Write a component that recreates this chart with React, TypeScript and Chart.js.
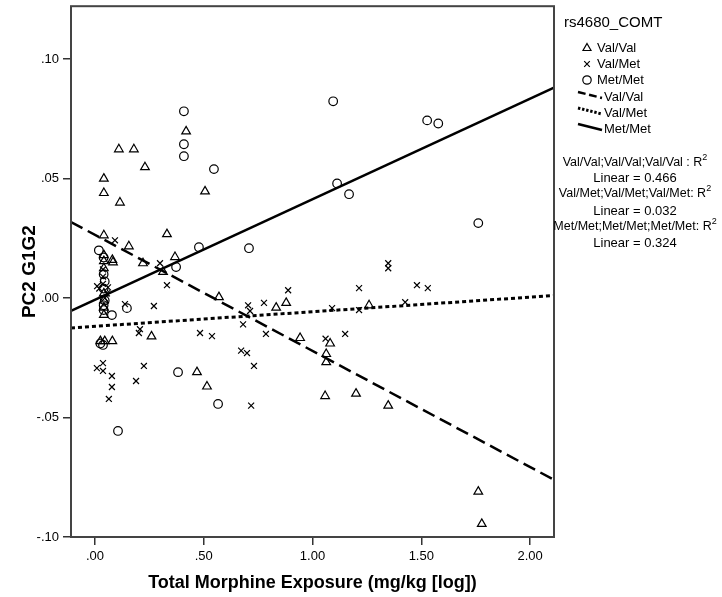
import React, { useEffect, useRef } from "react";
import { Chart, registerables } from "chart.js";

Chart.register(...registerables);

// ---------- data ----------
const xTicks = [0, 0.5, 1, 1.5, 2];
const yTicks = [-0.1, -0.05, 0, 0.05, 0.1];
const xRange = [-0.11, 2.11];
const yRange = [-0.1, 0.1222];

const groupLabels = ["Val/Val", "Val/Met", "Met/Met"];
const rSquared = ["0.466", "0.032", "0.324"];
// linear fit per group: intercept, slope
const fitIntercepts = [0.0265, -0.0118, -0.0007];
const fitSlopes = [-0.0486, 0.0061, 0.0421];

const valValX = [0.419, 0.041, 0.041, 0.110, 0.179, 0.230, 0.115, 0.506, 0.041, 0.331, 0.156, 0.368, 0.221, 0.313, 0.570, 0.041, 0.080, 0.083, 0.041, 0.041, 0.041, 0.041, 0.041, 0.041, 0.025, 0.045, 0.080, 0.260, 0.469, 0.515, 0.833, 0.879, 1.260, 0.943, 1.081, 1.063, 1.063, 1.058, 1.200, 1.348, 1.762, 1.778];
const valValY = [0.0698, 0.050, 0.044, 0.0623, 0.0623, 0.0548, 0.040, 0.0447, 0.0263, 0.0268, 0.0217, 0.0172, 0.0146, 0.011, 0.0004, 0.018, 0.016, 0.015, 0.0155, 0.0125, 0.002, -0.001, -0.004, -0.007, -0.018, -0.018, -0.018, -0.016, -0.031, -0.037, -0.004, -0.002, -0.003, -0.0167, -0.019, -0.0234, -0.0268, -0.041, -0.040, -0.045, -0.081, -0.0945];

const valMetX = [0.092, 0.299, 0.331, 0.138, 0.271, 0.704, 0.713, 0.681, 0.207, 0.202, 0.483, 0.538, 0.672, 0.699, 0.731, 0.037, 0.009, 0.037, 0.078, 0.225, 0.189, 0.078, 0.064, 0.718, 0.888, 0.777, 0.786, 1.090, 1.214, 1.214, 1.150, 1.348, 1.348, 1.480, 1.530, 1.426, 0.037, 0.037, 0.037, 0.020, 0.055, 0.045, 0.010, 0.060, 1.060];
const valMetY = [0.0242, 0.0146, 0.0054, -0.0025, -0.0033, -0.003, -0.0054, -0.011, -0.013, -0.0146, -0.0146, -0.0159, -0.022, -0.023, -0.0284, -0.0272, -0.0293, -0.0305, -0.0326, -0.0284, -0.0347, -0.0372, -0.0422, -0.045, 0.0033, -0.002, -0.015, -0.0042, 0.0042, -0.005, -0.015, 0.0146, 0.0125, 0.0054, 0.0042, -0.0017, 0.012, 0.009, 0.006, 0.004, 0.002, 0.0, 0.005, 0.0045, -0.017];

const metMetX = [0.409, 0.409, 0.409, 0.547, 1.095, 1.527, 1.578, 1.113, 1.168, 1.762, 0.708, 0.478, 0.373, 0.018, 0.147, 0.078, 0.037, 0.382, 0.566, 0.106, 0.040, 0.040, 0.045, 0.040, 0.040, 0.040, 0.025, 0.045];
const metMetY = [0.0782, 0.0644, 0.0594, 0.054, 0.0824, 0.0744, 0.0731, 0.048, 0.0435, 0.0314, 0.0209, 0.0213, 0.013, 0.020, -0.0042, -0.0071, -0.0196, -0.031, -0.0443, -0.0556, 0.017, 0.010, 0.007, 0.004, -0.003, -0.005, -0.019, -0.001];

// ---------- helpers ----------
const FONT = '"Liberation Sans", Arial, sans-serif';
const fmt = (v: number) => {
  const s = Math.abs(v).toFixed(2);
  const t = s.startsWith("0") ? s.slice(1) : s;
  return (v < 0 ? "-" : "") + t;
};
const pts = (xs: number[], ys: number[]) => xs.map((x, i) => ({ x, y: ys[i] }));
const fitLine = (i: number) =>
  xRange.map((x) => ({ x, y: fitIntercepts[i] + fitSlopes[i] * x }));

const lineDashes = [[13, 6], [4, 3], []];
const lineWidths = [2.5, 3, 2.5];

const framePlugin = {
  id: "frame",
  afterDraw(chart: any) {
    const { ctx, chartArea: a } = chart;
    ctx.save();
    ctx.strokeStyle = "#444";
    ctx.lineWidth = 2;
    ctx.strokeRect(a.left, a.top, a.right - a.left, a.bottom - a.top);
    ctx.restore();
  },
};

const legendPlugin = {
  id: "customLegend",
  afterDraw(chart: any) {
    const ctx = chart.ctx as CanvasRenderingContext2D;
    ctx.save();
    ctx.fillStyle = "#000";
    ctx.strokeStyle = "#000";
    ctx.textBaseline = "middle";
    ctx.textAlign = "left";
    ctx.font = `15px ${FONT}`;
    ctx.fillText("rs4680_COMT", 564, 23);

    // marker rows
    const mx = 587;
    const rows = [48, 64, 80];
    ctx.lineWidth = 1.2;
    // triangle
    ctx.beginPath();
    ctx.moveTo(mx, rows[0] - 4.5);
    ctx.lineTo(mx + 4, rows[0] + 2.5);
    ctx.lineTo(mx - 4, rows[0] + 2.5);
    ctx.closePath();
    ctx.stroke();
    // cross
    ctx.beginPath();
    ctx.moveTo(mx - 2.8, rows[1] - 2.8);
    ctx.lineTo(mx + 2.8, rows[1] + 2.8);
    ctx.moveTo(mx + 2.8, rows[1] - 2.8);
    ctx.lineTo(mx - 2.8, rows[1] + 2.8);
    ctx.stroke();
    // circle
    ctx.beginPath();
    ctx.arc(mx, rows[2], 4.2, 0, Math.PI * 2);
    ctx.stroke();

    ctx.font = `13px ${FONT}`;
    groupLabels.forEach((l, i) => ctx.fillText(l, 597, rows[i]));

    // line rows
    const lrows = [97, 113, 129];
    groupLabels.forEach((l, i) => {
      ctx.save();
      ctx.lineWidth = lineWidths[i];
      ctx.setLineDash(lineDashes[i].map((d) => d * 0.6));
      ctx.beginPath();
      ctx.moveTo(578, lrows[i] - 5);
      ctx.lineTo(602, lrows[i] + 1);
      ctx.stroke();
      ctx.restore();
      ctx.fillText(l, 604, lrows[i]);
    });

    // R^2 block
    const cx = 635;
    const rY = [163, 178, 194, 211, 227, 243];
    groupLabels.forEach((l, i) => {
      const head = `${l};${l};${l}${i === 0 ? " : R" : ": R"}`;
      ctx.font = `12.5px ${FONT}`;
      const w1 = ctx.measureText(head).width;
      ctx.font = `9px ${FONT}`;
      const w2 = ctx.measureText("2").width;
      const x0 = cx - (w1 + w2) / 2;
      ctx.font = `12.5px ${FONT}`;
      ctx.textAlign = "left";
      ctx.fillText(head, x0, rY[i * 2]);
      ctx.font = `9px ${FONT}`;
      ctx.fillText("2", x0 + w1, rY[i * 2] - 5);
      ctx.font = `13px ${FONT}`;
      ctx.textAlign = "center";
      ctx.fillText(`Linear = ${rSquared[i]}`, cx, rY[i * 2 + 1]);
      ctx.textAlign = "left";
    });
    ctx.restore();
  },
};

export default function App() {
  const ref = useRef<HTMLCanvasElement | null>(null);

  useEffect(() => {
    document.body.style.margin = "0";
    if (!ref.current) return;
    const markerBase = {
      type: "scatter" as const,
      borderColor: "#000",
      backgroundColor: "rgba(0,0,0,0)",
      pointBorderWidth: 1.2,
      showLine: false,
    };
    const chart = new Chart(ref.current, {
      type: "scatter",
      data: {
        datasets: [
          { ...markerBase, label: "Val/Val", data: pts(valValX, valValY), pointStyle: "triangle", pointRadius: 5 },
          { ...markerBase, label: "Val/Met", data: pts(valMetX, valMetY), pointStyle: "crossRot", pointRadius: 4.2 },
          { ...markerBase, label: "Met/Met", data: pts(metMetX, metMetY), pointStyle: "circle", pointRadius: 4.3 },
          ...groupLabels.map((l, i) => ({
            type: "line" as const,
            label: l + " fit",
            data: fitLine(i),
            borderColor: "#000",
            borderWidth: lineWidths[i],
            borderDash: lineDashes[i],
            pointRadius: 0,
            fill: false,
            tension: 0,
          })),
        ],
      } as any,
      options: {
        responsive: false,
        animation: false,
        devicePixelRatio: 1,
        layout: { padding: { top: 5, right: 168, left: 0, bottom: 0 } },
        plugins: { legend: { display: false }, tooltip: { enabled: false } },
        scales: {
          x: {
            type: "linear",
            min: xRange[0],
            max: xRange[1],
            afterBuildTicks: (s: any) => {
              s.ticks = xTicks.map((v) => ({ value: v }));
            },
            afterFit: (s: any) => {
              s.height = 60;
              s.paddingLeft = 0;
              s.paddingRight = 0;
            },
            border: { display: false },
            grid: { drawOnChartArea: false, drawTicks: true, tickLength: 8, color: "#333", lineWidth: 1.5 },
            ticks: {
              callback: (v: any) => fmt(Number(v)),
              color: "#000",
              font: { family: FONT, size: 13 },
              padding: 4,
              maxRotation: 0,
              autoSkip: false,
            },
            title: {
              display: true,
              text: "Total Morphine Exposure (mg/kg [log])",
              color: "#000",
              font: { family: FONT, size: 18, weight: "bold" },
              padding: { top: 3, bottom: 3 },
            },
          },
          y: {
            type: "linear",
            min: yRange[0],
            max: yRange[1],
            afterBuildTicks: (s: any) => {
              s.ticks = yTicks.map((v) => ({ value: v }));
            },
            afterFit: (s: any) => {
              s.width = 71;
              s.paddingTop = 0;
              s.paddingBottom = 0;
            },
            border: { display: false },
            grid: { drawOnChartArea: false, drawTicks: true, tickLength: 8, color: "#333", lineWidth: 1.5 },
            ticks: {
              callback: (v: any) => fmt(Number(v)),
              color: "#000",
              font: { family: FONT, size: 13 },
              padding: 4,
              autoSkip: false,
            },
            title: {
              display: true,
              text: "PC2 G1G2",
              color: "#000",
              font: { family: FONT, size: 19, weight: "bold" },
              padding: { top: 18, bottom: 18 },
            },
          },
        },
      } as any,
      plugins: [framePlugin, legendPlugin],
    });
    return () => chart.destroy();
  }, []);

  return (
    <div style={{ position: "absolute", left: 0, top: 0, width: 722, height: 597, background: "#fff" }}>
      <canvas ref={ref} width={722} height={597} />
    </div>
  );
}
